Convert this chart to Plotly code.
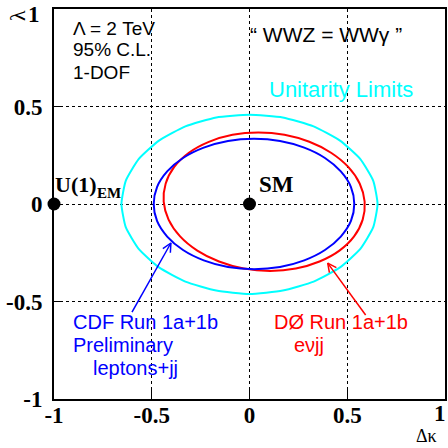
import math
import plotly.graph_objects as go

# ---- data ----
# Unitarity limit contour (cyan)
unit_x = [0.655, 0.633, 0.567, 0.463, 0.328, 0.170, 0.000, -0.170, -0.328, -0.463, -0.567, -0.633,
          -0.655, -0.633, -0.567, -0.463, -0.328, -0.170, 0.000, 0.170, 0.328, 0.463, 0.567, 0.633]
unit_y = [0.000, 0.119, 0.230, 0.325, 0.398, 0.444, 0.458, 0.444, 0.398, 0.325, 0.230, 0.119,
          0.000, -0.119, -0.230, -0.325, -0.398, -0.444, -0.462, -0.444, -0.398, -0.325, -0.230, -0.119]
# CDF contour (blue)
cdf_x = [0.536, 0.519, 0.467, 0.386, 0.280, 0.156, 0.023, -0.110, -0.234, -0.340, -0.421, -0.473,
         -0.490, -0.473, -0.421, -0.340, -0.234, -0.110, 0.023, 0.156, 0.280, 0.386, 0.467, 0.519]
cdf_y = [0.000, 0.087, 0.167, 0.236, 0.289, 0.323, 0.334, 0.323, 0.289, 0.236, 0.167, 0.087,
         0.000, -0.087, -0.167, -0.236, -0.289, -0.323, -0.334, -0.323, -0.289, -0.236, -0.167, -0.087]
# D0 contour (red)
d0_x = [0.589, 0.564, 0.505, 0.417, 0.306, 0.179, 0.045, -0.087, -0.208, -0.310, -0.385, -0.429,
        -0.439, -0.414, -0.355, -0.267, -0.156, -0.029, 0.105, 0.237, 0.358, 0.460, 0.535, 0.579]
d0_y = [0.012, 0.104, 0.190, 0.263, 0.319, 0.355, 0.367, 0.355, 0.319, 0.263, 0.190, 0.104,
        0.012, -0.080, -0.166, -0.239, -0.295, -0.331, -0.343, -0.331, -0.295, -0.239, -0.166, -0.080]
# special points
pt_names = ["U(1)EM", "SM"]
pt_x = [-1.0, 0.0]
pt_y = [0.0, 0.0]
# label arrows: [tail, head]
cdf_arrow_x = [-0.601, -0.402]
cdf_arrow_y = [-0.554, -0.200]
d0_arrow_x = [0.594, 0.400]
d0_arrow_y = [-0.569, -0.303]
# ticks (the end label "1" is placed separately so it stays inside the page)
tick_vals = [-1, -0.5, 0, 0.5]
tick_text = ["-1", "-0.5", "0", "0.5"]
end_tick_text = "1"

BLUE, RED, CYAN = "#0000FF", "#FF0000", "#00FFFF"

fig = go.Figure()

def closed(v):
    return list(v) + [v[0]]

fig.add_trace(go.Scatter(x=closed(unit_x), y=closed(unit_y), mode="lines",
                         line=dict(color=CYAN, width=2, shape="spline", smoothing=0.5),
                         hoverinfo="skip", showlegend=False))
fig.add_trace(go.Scatter(x=closed(d0_x), y=closed(d0_y), mode="lines",
                         line=dict(color=RED, width=2, shape="spline", smoothing=0.8),
                         hoverinfo="skip", showlegend=False))
fig.add_trace(go.Scatter(x=closed(cdf_x), y=closed(cdf_y), mode="lines",
                         line=dict(color=BLUE, width=2, shape="spline", smoothing=0.8),
                         hoverinfo="skip", showlegend=False))
fig.add_trace(go.Scatter(x=pt_x, y=pt_y, mode="markers", text=pt_names,
                         marker=dict(color="black", size=13), cliponaxis=False,
                         hoverinfo="text", showlegend=False))

def arrow(xs, ys, color):
    # shaft plus an open "V" head, built from the tail/head points
    fig.add_trace(go.Scatter(x=xs, y=ys, mode="lines", line=dict(color=color, width=1.5),
                             hoverinfo="skip", showlegend=False))
    dx, dy = xs[1] - xs[0], ys[1] - ys[0]
    n = math.hypot(dx, dy)
    ux, uy = dx / n, dy / n
    L, W = 0.045, 0.022
    bx, by = xs[1] - L * ux, ys[1] - L * uy
    hx = [bx - W * uy, xs[1], bx + W * uy]
    hy = [by + W * ux, ys[1], by - W * ux]
    fig.add_trace(go.Scatter(x=hx, y=hy, mode="lines", line=dict(color=color, width=1.5),
                             hoverinfo="skip", showlegend=False))

arrow(cdf_arrow_x, cdf_arrow_y, BLUE)
arrow(d0_arrow_x, d0_arrow_y, RED)

tickfont = dict(family="Liberation Serif", size=23, color="black", weight="bold")
axis_common = dict(
    range=[-1, 1], tickvals=tick_vals, ticktext=tick_text,
    showline=True, linecolor="black", linewidth=2, mirror=True,
    ticks="inside", ticklen=9, tickwidth=1, tickcolor="black",
    showgrid=True, gridcolor="black", gridwidth=1, griddash="dot",
    zeroline=False, automargin=False,
    tickfont=tickfont,
)
fig.update_xaxes(**axis_common, ticklabelstandoff=-6)
fig.update_yaxes(**axis_common, ticklabelstandoff=5)

sans = "Liberation Sans"
serif = "Liberation Serif"
ann = []

def px(xp, yp):
    return (xp - 54) / 391.0, (399 - yp) / 390.0

def txt(xp, yp, s, color="black", size=21, family=sans, weight="normal",
        xanchor="left", yanchor="middle", **kw):
    x, y = px(xp, yp)
    ann.append(dict(x=x, y=y, xref="paper", yref="paper", text=s, showarrow=False,
                    xanchor=xanchor, yanchor=yanchor,
                    font=dict(family=family, size=size, color=color, weight=weight), **kw))

# end tick labels
txt(448, 413, end_tick_text, size=23, family=serif, weight="bold", xanchor="right")
txt(42, 0, end_tick_text, size=23, family=serif, weight="bold", xanchor="right", yanchor="top")

# top-left block
txt(71, 28, "Λ = 2 TeV", size=19)
txt(71, 50, "95% C.L.", size=19)
txt(71, 72, "1-DOF", size=19)
# CDF block
txt(71, 322, "CDF Run 1a+1b", color=BLUE, size=20)
txt(71, 345, "Preliminary", color=BLUE, size=20)
txt(91, 368, "leptons+jj", color=BLUE, size=20)
# D0 block
txt(272, 322, "DØ Run 1a+1b", color=RED, size=20)
txt(292, 345, "eνjj", color=RED, size=20)

txt(248, 35, "“ WWZ = WWγ ”")
txt(267, 89, "Unitarity Limits", color=CYAN, size=22)
txt(53, 185, "U(1)", size=22, family=serif, weight="bold")
txt(95, 193, "EM", size=15, family=serif, weight="bold")
txt(257, 185, "SM", size=23, family=serif, weight="bold")
txt(426, 448, "Δκ", size=18, family=serif, xanchor="center", yanchor="bottom")
txt(17, 16, "λ", size=22, family=serif, xanchor="center", textangle=-90)

fig.update_layout(
    width=448, height=448,
    margin=dict(l=54, r=3, t=9, b=49),
    plot_bgcolor="white", paper_bgcolor="white",
    annotations=ann,
    showlegend=False,
)

fig.write_html("out.html")
